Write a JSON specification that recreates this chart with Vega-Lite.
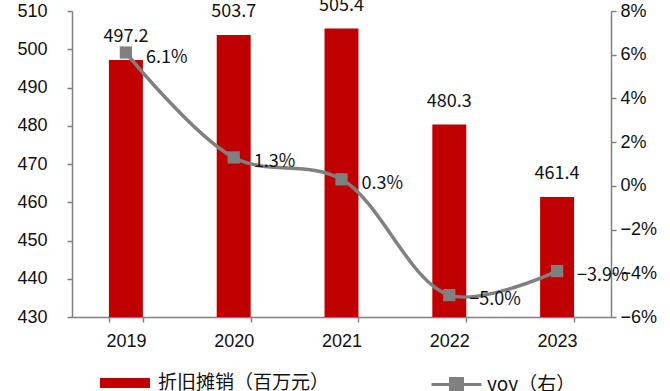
{
  "$schema": "https://vega.github.io/schema/vega-lite/v6.json",
  "width": 539,
  "height": 306,
  "autosize": {"type": "none"},
  "padding": {"left": 72, "top": 11, "right": 59, "bottom": 74},
  "background": "white",
  "config": {
    "view": {"stroke": null},
    "font": "Liberation Sans",
    "axis": {
      "domainColor": "#808080",
      "domainWidth": 1.5,
      "tickColor": "#808080",
      "tickWidth": 1.5,
      "tickSize": 5,
      "labelFont": "Liberation Sans",
      "labelFontSize": 18,
      "labelColor": "#111111",
      "grid": false,
      "title": null
    },
    "legend": {"padding": 0, "labelLimit": 0}
  },
  "data": {
    "values": [
      {"year": "2019", "value": 497.2, "yoy": 0.061},
      {"year": "2020", "value": 503.7, "yoy": 0.013},
      {"year": "2021", "value": 505.4, "yoy": 0.003},
      {"year": "2022", "value": 480.3, "yoy": -0.05},
      {"year": "2023", "value": 461.4, "yoy": -0.039}
    ]
  },
  "encoding": {
    "x": {
      "field": "year",
      "type": "nominal",
      "scale": {"paddingInner": 0.685, "paddingOuter": 0.3425},
      "axis": {"labelAngle": 0, "tickBand": "extent", "labelPadding": 10}
    }
  },
  "layer": [
    {
      "encoding": {
        "y": {
          "field": "value",
          "type": "quantitative",
          "scale": {"domain": [430, 510], "zero": false, "nice": false},
          "axis": {
            "orient": "left",
            "values": [430, 440, 450, 460, 470, 480, 490, 500, 510],
            "labelPadding": 20
          }
        }
      },
      "layer": [
        {
          "mark": {"type": "bar"},
          "encoding": {
            "y2": {"datum": 430},
            "fill": {
              "datum": "折旧摊销（百万元）",
              "type": "nominal",
              "scale": {"range": ["#C00000"]},
              "legend": {
                "title": null,
                "orient": "none",
                "legendX": 28,
                "legendY": 347,
                "symbolType": "M-1,-0.2H1V0.2H-1Z",
                "symbolSize": 2500,
                "symbolStrokeWidth": 0,
                "labelFont": "Noto Sans CJK SC",
                "labelFontSize": 19,
                "labelColor": "#111111",
                "labelOffset": 8,
                "labelLimit": 0
              }
            }
          }
        },
        {
          "mark": {
            "type": "text",
            "baseline": "bottom",
            "dy": -14,
            "font": "Noto Sans CJK SC",
            "fontSize": 18,
            "color": "#111111"
          },
          "encoding": {
            "text": {"field": "value", "type": "quantitative", "format": ".1f"}
          }
        }
      ]
    },
    {
      "encoding": {
        "y": {
          "field": "yoy",
          "type": "quantitative",
          "scale": {"domain": [-0.06, 0.08], "zero": false, "nice": false},
          "axis": {
            "orient": "right",
            "values": [-0.06, -0.04, -0.02, 0, 0.02, 0.04, 0.06, 0.08],
            "format": ".0%",
            "labelPadding": 4
          }
        }
      },
      "layer": [
        {
          "mark": {
            "type": "line",
            "interpolate": "catmull-rom",
            "strokeWidth": 3.5
          },
          "encoding": {
            "stroke": {
              "datum": "yoy（右）",
              "type": "nominal",
              "scale": {"range": ["#808080"]},
              "legend": {
                "title": null,
                "orient": "none",
                "legendX": 358,
                "legendY": 347,
                "symbolType": "M-1,0H1M-0.24,-0.24H0.24V0.24H-0.24Z",
                "symbolSize": 2500,
                "symbolStrokeWidth": 3,
                "symbolFillColor": "#808080",
                "symbolStrokeColor": "#808080",
                "labelFont": "Noto Sans CJK SC",
                "labelFontSize": 19,
                "labelColor": "#111111",
                "labelOffset": 4,
                "labelLimit": 0
              }
            }
          }
        },
        {
          "mark": {
            "type": "point",
            "shape": "square",
            "filled": true,
            "size": 150,
            "color": "#808080",
            "opacity": 1
          }
        },
        {
          "mark": {
            "type": "text",
            "align": "left",
            "baseline": "middle",
            "dx": 20,
            "dy": 5,
            "font": "Noto Sans CJK SC",
            "fontSize": 18,
            "color": "#111111"
          },
          "encoding": {
            "text": {"field": "yoy", "type": "quantitative", "format": ".1%"}
          }
        }
      ]
    }
  ],
  "resolve": {"scale": {"y": "independent"}}
}
